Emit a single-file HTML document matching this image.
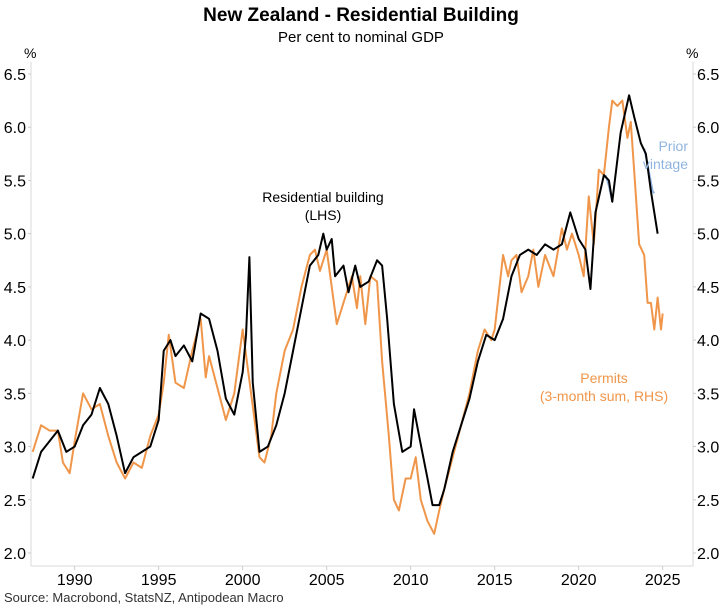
<!DOCTYPE html>
<html><head><meta charset="utf-8"><style>
html,body{margin:0;padding:0;background:#fff;}
svg text{font-family:"Liberation Sans",Arial,sans-serif;}
</style></head><body>
<svg width="723" height="606" xmlns="http://www.w3.org/2000/svg">
<text x="361" y="21" text-anchor="middle" font-size="19" font-weight="bold" fill="#000">New Zealand - Residential Building</text>
<text x="361" y="42" text-anchor="middle" font-size="15" fill="#000">Per cent to nominal GDP</text>
<text x="24" y="58" font-size="14">%</text>
<text x="686" y="58" font-size="14">%</text>
<g id="axes"></g>
<g id="series"></g>
<text x="323" y="202" text-anchor="middle" font-size="14">Residential building</text>
<text x="323" y="220" text-anchor="middle" font-size="14">(LHS)</text>
<text x="688" y="151" text-anchor="end" font-size="14" fill="#8fb4e0">Prior</text>
<text x="688" y="169" text-anchor="end" font-size="14" fill="#8fb4e0">vintage</text>
<text x="604" y="383" text-anchor="middle" font-size="14" fill="#f0964a">Permits</text>
<text x="604" y="401" text-anchor="middle" font-size="14" fill="#f0964a">(3-month sum, RHS)</text>
<text x="4" y="602" font-size="13" fill="#333">Source: Macrobond, StatsNZ, Antipodean Macro</text>
</svg>
<script>
const yTicks=[2.0,2.5,3.0,3.5,4.0,4.5,5.0,5.5,6.0,6.5];
const xTicks=[1990,1995,2000,2005,2010,2015,2020,2025];
const resYears=[1987.5,1988,1988.5,1989,1989.5,1990,1990.5,1991,1991.5,1992,1992.5,1993,1993.5,1994,1994.5,1995,1995.3,1995.7,1996,1996.5,1997,1997.5,1998,1998.5,1999,1999.5,2000,2000.2,2000.4,2000.6,2001,2001.5,2002,2002.5,2003,2003.5,2004,2004.5,2004.8,2005,2005.3,2005.5,2006,2006.3,2006.7,2007,2007.5,2008,2008.3,2008.6,2009,2009.5,2010,2010.2,2010.5,2011,2011.3,2011.7,2012,2012.5,2013,2013.5,2014,2014.5,2015,2015.5,2016,2016.5,2017,2017.5,2018,2018.5,2019,2019.5,2020,2020.4,2020.7,2021,2021.5,2021.8,2022,2022.5,2023,2023.3,2023.7,2024,2024.3,2024.7];
const resValues=[2.7,2.95,3.05,3.15,2.95,3.0,3.2,3.3,3.55,3.4,3.1,2.75,2.9,2.95,3.0,3.25,3.9,4.0,3.85,3.95,3.8,4.25,4.2,3.9,3.45,3.3,3.7,4.05,4.78,3.6,2.95,3.0,3.2,3.5,3.9,4.3,4.7,4.8,5.0,4.85,4.95,4.6,4.7,4.45,4.7,4.5,4.55,4.75,4.7,4.2,3.4,2.95,3.0,3.35,3.1,2.7,2.45,2.45,2.6,2.95,3.2,3.45,3.8,4.05,4.0,4.2,4.6,4.8,4.85,4.8,4.9,4.85,4.9,5.2,4.95,4.85,4.48,5.2,5.55,5.5,5.3,5.95,6.3,6.1,5.85,5.75,5.4,5.0];
const permYears=[1987.5,1988,1988.5,1989,1989.3,1989.7,1990,1990.5,1991,1991.5,1992,1992.5,1993,1993.5,1994,1994.5,1995,1995.3,1995.6,1996,1996.5,1997,1997.5,1997.8,1998,1998.5,1999,1999.5,2000,2000.5,2001,2001.3,2001.7,2002,2002.5,2003,2003.5,2004,2004.3,2004.6,2005,2005.3,2005.6,2006,2006.5,2006.8,2007,2007.3,2007.6,2008,2008.3,2008.7,2009,2009.3,2009.7,2010,2010.3,2010.6,2011,2011.4,2011.7,2012,2012.5,2013,2013.5,2014,2014.4,2014.8,2015,2015.5,2015.8,2016,2016.3,2016.6,2017,2017.3,2017.6,2018,2018.5,2019,2019.3,2019.6,2020,2020.3,2020.6,2020.9,2021.2,2021.5,2021.8,2022,2022.3,2022.6,2022.9,2023.1,2023.3,2023.6,2023.9,2024.1,2024.3,2024.5,2024.7,2024.9,2025];
const permValues=[2.95,3.2,3.15,3.15,2.85,2.75,3.05,3.5,3.35,3.4,3.1,2.85,2.7,2.85,2.8,3.1,3.3,3.6,4.05,3.6,3.55,3.9,4.2,3.65,3.85,3.55,3.25,3.5,4.1,3.5,2.9,2.85,3.1,3.5,3.9,4.1,4.5,4.8,4.85,4.65,4.85,4.5,4.15,4.35,4.6,4.3,4.6,4.15,4.6,4.55,3.8,3.1,2.5,2.4,2.7,2.7,2.9,2.5,2.3,2.18,2.4,2.6,2.9,3.2,3.5,3.9,4.1,4.0,4.1,4.8,4.6,4.75,4.8,4.45,4.6,4.85,4.5,4.8,4.6,5.05,4.85,5.0,4.8,4.6,5.35,4.9,5.6,5.55,6.0,6.25,6.2,6.25,5.9,6.05,5.6,4.9,4.8,4.35,4.35,4.1,4.4,4.1,4.25];
const priorYears=[2021.6,2021.8,2022.0];
const priorValues=[5.55,5.45,5.3];
const prior2Years=[2023.9,2024.1,2024.4,2024.5];
const prior2Values=[5.8,5.65,5.4,5.38];

const X0=31,X1=693,Y0=74,Y1=553;
const x=yr=>X0+(yr-1987.4)*16.8;
const y=v=>Y1-(v-2.0)/(4.5)*(Y1-Y0);
const NS="http://www.w3.org/2000/svg";
function mk(tag,attrs,parent){const e=document.createElementNS(NS,tag);for(const k in attrs)e.setAttribute(k,attrs[k]);parent.appendChild(e);return e;}
const axes=document.getElementById('axes');
let l=mk('line',{x1:X0,y1:62,x2:X0,y2:566,stroke:'#d9d9d9'},axes);


l=mk('line',{x1:X1,y1:62,x2:X1,y2:566,stroke:'#d9d9d9'},axes);


l=mk('line',{x1:X0,y1:566,x2:X1,y2:566,stroke:'#d9d9d9'},axes);


yTicks.forEach(v=>{
 let t=mk('text',{x:X0-5,y:y(v)+6,'text-anchor':'end','font-size':16},axes);t.textContent=v.toFixed(1);
 
 
 t=mk('text',{x:X1+4,y:y(v)+6,'font-size':16},axes);t.textContent=v.toFixed(1);
 
 
 mk('line',{x1:X0-3,y1:y(v),x2:X0,y2:y(v),stroke:'#ccc'},axes);
 mk('line',{x1:X1,y1:y(v),x2:X1+3,y2:y(v),stroke:'#ccc'},axes);
});
xTicks.forEach(yr=>{
 mk('line',{x1:x(yr),y1:566,x2:x(yr),y2:570,stroke:'#ccc'},axes);
 const t=mk('text',{x:x(yr),y:585,'text-anchor':'middle','font-size':16},axes);t.textContent=yr;
 
 
});
const s=document.getElementById('series');
function line(xs,vs,col,w,name){
 const p=mk('polyline',{points:xs.map((a,i)=>x(a)+','+y(vs[i])).join(' '),fill:'none',stroke:col,'stroke-width':w,'stroke-linejoin':'round'},s);
 
 
}
line(priorYears,priorValues,'#8fb4e0',2,'prior-vintage-line');
line(prior2Years,prior2Values,'#8fb4e0',2,'prior-vintage-line-2');
line(permYears,permValues,'#f0964a',2,'permits-line');
line(resYears,resValues,'#000',2,'residential-building-line');
</script>
</body></html>
